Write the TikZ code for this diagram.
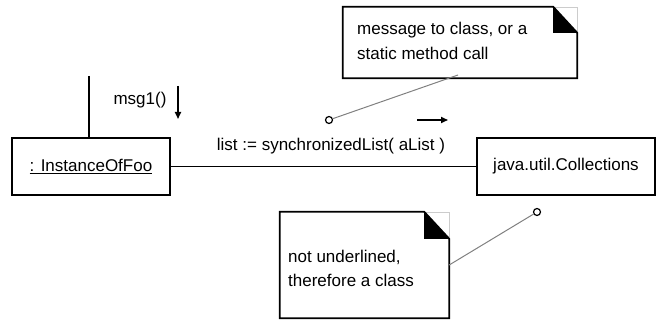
\documentclass[tikz,border=0pt]{standalone}
\usepackage{fontspec}
\setmainfont{Liberation Sans}
\usetikzlibrary{calc,arrows.meta}
\begin{document}
\begin{tikzpicture}[x=1pt,y=-1pt,
  txt/.style={font=\fontsize{17}{20}\selectfont, inner sep=0pt},
  objbox/.style={draw, line width=1.8pt, inner sep=0pt, font=\fontsize{17}{20}\selectfont},
  noteshape/.style={inner sep=0pt},
  notec/.style={draw, circle, line width=1.2pt, inner sep=0pt, minimum size=7pt},
  noteline/.style={draw=gray, line width=1pt},
  msgarrow/.style={line width=1.6pt, -{Triangle[length=7pt,width=6pt]}}
]
\useasboundingbox (0,0) rectangle (657,320);
% objects
\node[objbox, minimum width=158pt, minimum height=57pt] (foo) at (91,166.5) {\underline{: InstanceOfFoo}};
\node[objbox, minimum width=178pt, minimum height=57pt] (col) at (566,166.5) {java.util.Collections};
\coordinate (top) at (89,76);
\draw[line width=1.8pt] (top) -- (top |- foo.north);
\draw[line width=1.8pt] (foo.east) -- (col.west);
% messages
\node[txt] (m1) at (140,100) {msg1()};
\coordinate (a1s) at (178,86);
\coordinate (a1e) at (178,119);
\draw[msgarrow] (a1s) -- (a1e);
\node[txt] (m2) at (331,146) {list := synchronizedList( aList )};
\coordinate (a2s) at (417,120);
\coordinate (a2e) at (448,120);
\draw[msgarrow] (a2s) -- (a2e);
% note 1
\node[noteshape, minimum width=234pt, minimum height=71pt] (n1) at (460,42.5) {};
\draw[gray!40, line width=0.5pt] ($(n1.north east)+(-24,0)$) -- (n1.north east) -- ++(0,26);
\fill ($(n1.north east)+(-24,0)$) -- ($(n1.north east)+(-24,26)$) -- ($(n1.north east)+(0,26)$) -- cycle;
\draw[line width=1.8pt] ($(n1.north east)+(-24,0)$) -- (n1.north west) -- (n1.south west) -- (n1.south east) -- ($(n1.north east)+(0,26)$) -- cycle;
\node[txt, anchor=west] (n1a) at (357,30) {message to class, or a};
\node[txt, anchor=west] (n1b) at (357,53) {static method call};
\node[notec] (c1) at (329,120) {};
\coordinate (n1anchor) at (458,75);
\draw[noteline] (c1) -- (n1anchor);
% note 2
\node[noteshape, minimum width=169pt, minimum height=106pt] (n2) at (364.5,265) {};
\draw[gray!40, line width=0.5pt] ($(n2.north east)+(-25,0)$) -- (n2.north east) -- ++(0,27);
\fill ($(n2.north east)+(-25,0)$) -- ($(n2.north east)+(-25,27)$) -- ($(n2.north east)+(0,27)$) -- cycle;
\draw[line width=1.8pt] ($(n2.north east)+(-25,0)$) -- (n2.north west) -- (n2.south west) -- (n2.south east) -- ($(n2.north east)+(0,27)$) -- cycle;
\node[txt, anchor=west] (n2a) at (288,257) {not underlined,};
\node[txt, anchor=west] (n2b) at (288,280) {therefore a class};
\node[notec] (c2) at (537,212) {};
\draw[noteline] (c2) -- (n2.east);
\end{tikzpicture}
\end{document}
